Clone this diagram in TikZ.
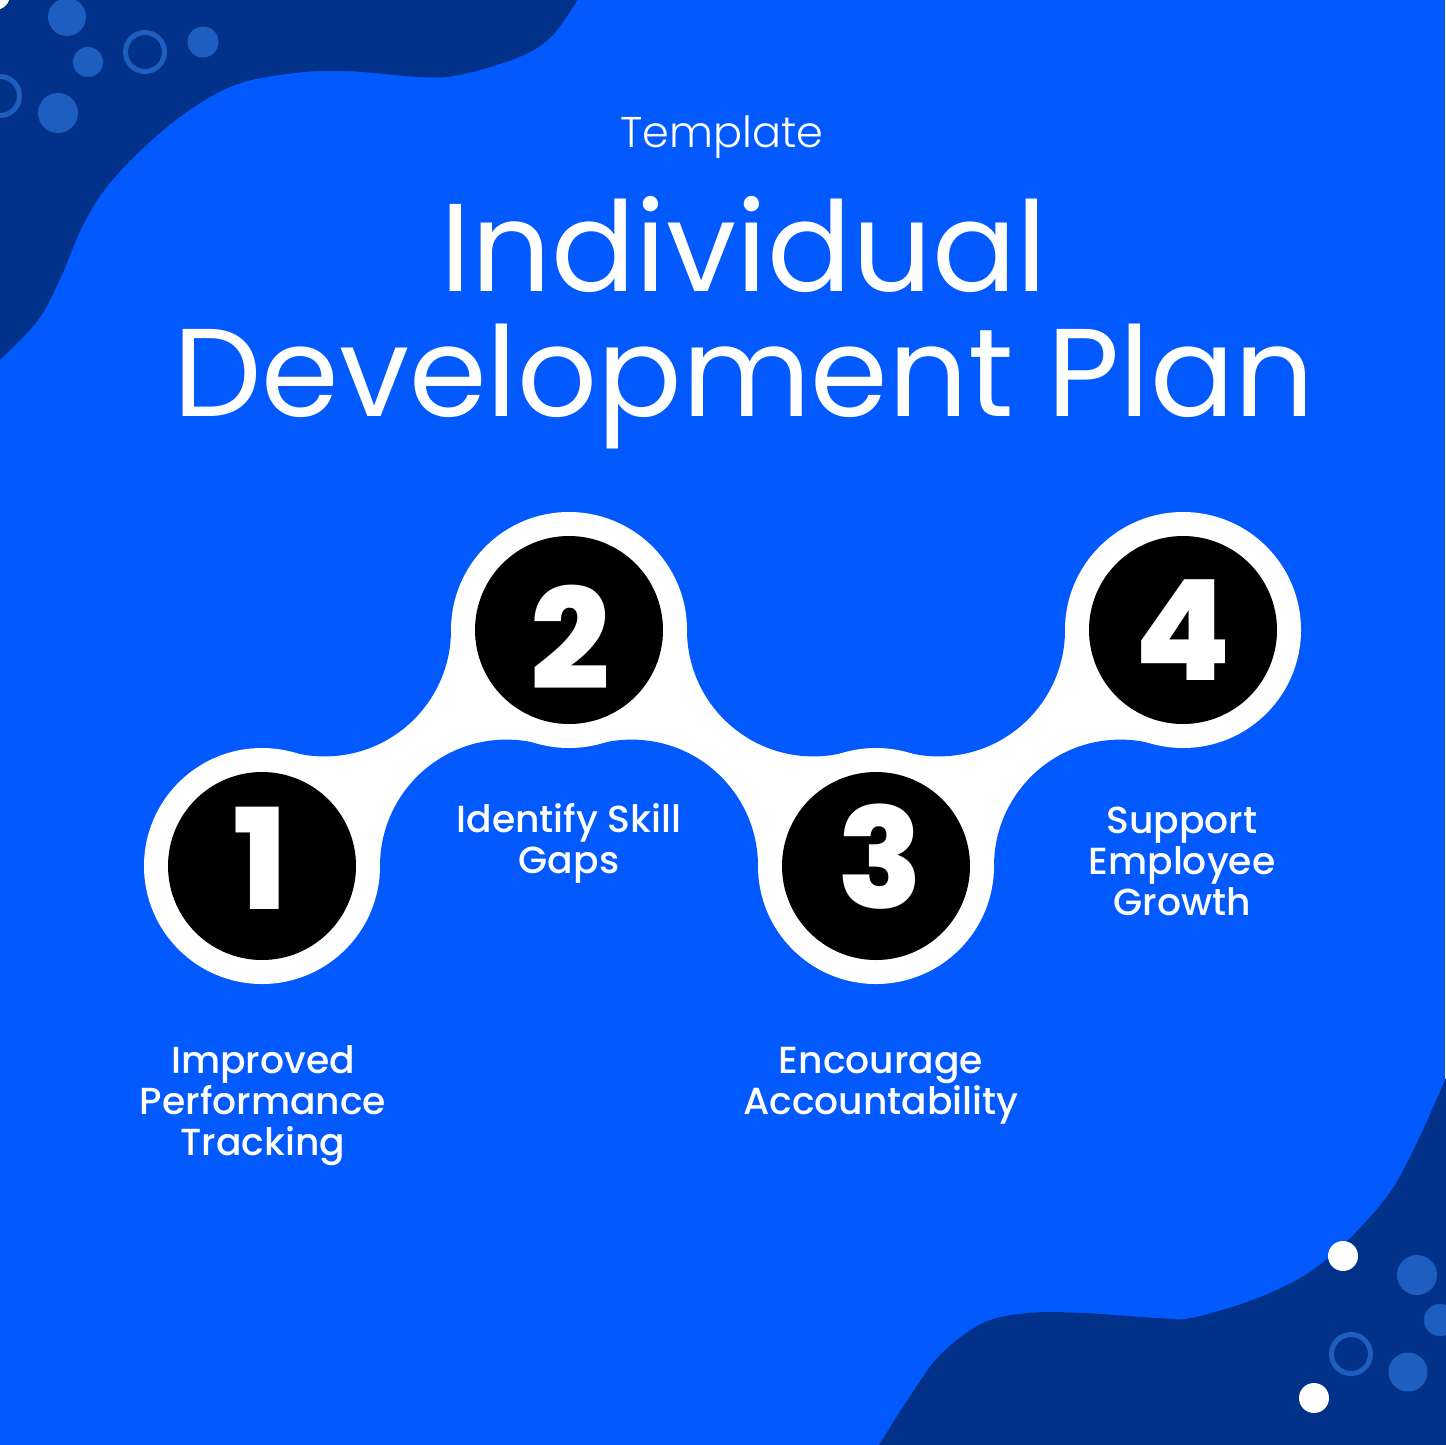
\documentclass[tikz,border=0pt]{standalone}
\usepackage{fontspec}
\setmainfont{Poppins}
\newfontfamily\lightfont{Poppins Light}
\newfontfamily\medfont{Poppins Medium}
\newfontfamily\numfont{Poppins ExtraBold}
\definecolor{bgblue}{RGB}{2,89,254}
\definecolor{navy}{RGB}{2,49,137}
\definecolor{dotblue}{RGB}{30,94,192}
\tikzset{
  dotfill/.style={fill=dotblue},
  dotring/.style={draw=dotblue, line width=5pt},
  whitedot/.style={fill=white},
  bridge/.style={fill=white},
  fillet/.style={fill=bgblue},
  ring/.style={circle, fill=white, minimum size=236pt, inner sep=0pt},
  numcirc/.style={circle, fill=black, minimum size=188pt, inner sep=0pt},
  numtext/.style={text=white, font=\numfont\fontsize{140}{140}\selectfont, inner sep=0pt},
  label/.style={text=white, align=center, inner sep=0pt, font=\medfont\fontsize{37.7}{41}\selectfont},
}
\begin{document}
\begin{tikzpicture}[x=1pt,y=-1pt]
\fill[bgblue] (0,0) rectangle (1445,1445);
\useasboundingbox (0,0) rectangle (1445,1445);
% corner blobs
\fill[navy] plot[smooth, tension=0.6] coordinates {(586,-6) (578,0) (551,37) (517,58) (459,75) (421,77) (344,71) (287,74) (230,87) (172,123) (115,177) (84,223) (61,277) (38,320) (0,360) (-6,366)} -- (-6,-6) -- cycle;
\fill[navy] plot[smooth, tension=0.6] coordinates {(1451,1066) (1445,1080) (1412,1153) (1382,1203) (1326,1260) (1270,1293) (1196,1317) (1158,1318) (1084,1313) (1028,1313) (983,1323) (942,1353) (916,1387) (879,1445) (876,1451)} -- (1451,1451) -- cycle;
% dots top-left
\fill[dotfill] (67,17) circle[radius=19pt];
\fill[dotfill] (88,62) circle[radius=15pt];
\fill[dotfill] (203,42) circle[radius=15.5pt];
\fill[dotfill] (58,113) circle[radius=20pt];
\draw[dotring] (145,52) circle[radius=19.5pt];
\draw[dotring] (0,96) circle[radius=19.5pt];
\fill[whitedot] (-5,-5) circle[radius=15pt];
% dots bottom-right
\fill[dotfill] (1417,1275) circle[radius=20pt];
\fill[dotfill] (1440,1320) circle[radius=16pt];
\fill[dotfill] (1408,1372) circle[radius=19.5pt];
\draw[dotring] (1351,1354) circle[radius=19.5pt];
\fill[whitedot] (1343,1256) circle[radius=15pt];
\fill[whitedot] (1314,1398) circle[radius=15pt];
% titles
\node[text=white, inner sep=0pt, anchor=base, font=\lightfont\fontsize{43}{43}\selectfont] (sub) at (722,147) {Template};
\node[text=white, inner sep=0pt, anchor=base, font=\fontsize{125}{125}\selectfont] (t1) at (744,291) {Individual};
\node[text=white, inner sep=0pt, anchor=base, font=\fontsize{125}{125}\selectfont] (t2) at (744,416) {Development Plan};
% white bridges
\fill[bridge] (262,866) -- (292.3,751.9) -- (451,630) -- (569,630) -- (538.7,744.1) -- (380,866) -- cycle;
\fill[bridge] (569,630) -- (687,630) -- (845.7,751.9) -- (876,866) -- (758,866) -- (599.3,744.1) -- cycle;
\fill[bridge] (876,866) -- (906.3,751.9) -- (1065,630) -- (1183,630) -- (1152.7,744.1) -- (994,866) -- cycle;
% blue fillets
\foreach \p in {(324.6,630),(506.4,866),(813.4,630),(631.6,866),(938.6,630),(1120.4,866)}
  \fill[fillet] \p circle[radius=126.4pt];
% rings and number circles
\node[ring] (r1) at (262,866) {};
\node[ring] (r2) at (569,630) {};
\node[ring] (r3) at (876,866) {};
\node[ring] (r4) at (1183,630) {};
\node[numcirc] (c1) at (262,866) {};
\node[numcirc] (c2) at (569,630) {};
\node[numcirc] (c3) at (876,866) {};
\node[numcirc] (c4) at (1183,630) {};
\node[numtext] (n1) at (261,858) {1};
\node[numtext] (n2) at (570,637) {2};
\node[numtext] (n3) at (880,857) {3};
\node[numtext] (n4) at (1183,630) {4};
% labels (anchor=base is the baseline of the last line)
\node[label, anchor=base] (l1) at (263,1155) {Improved\\Performance\\Tracking};
\node[label, anchor=base] (l2) at (569,873) {Identify Skill\\Gaps};
\node[label, anchor=base] (l3) at (881,1114) {Encourage\\Accountability};
\node[label, anchor=base] (l4) at (1182,915) {Support\\Employee\\Growth};
\end{tikzpicture}
\end{document}
